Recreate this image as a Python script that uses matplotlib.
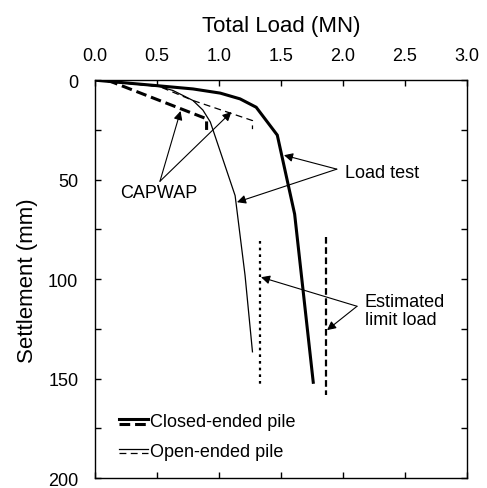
import matplotlib
matplotlib.use("Agg")
import matplotlib.pyplot as plt
from matplotlib.lines import Line2D
from matplotlib.legend_handler import HandlerBase

plt.rcParams['font.family'] = ['Liberation Sans', 'DejaVu Sans']

# load (MN) vs settlement (mm)
closed_test_load = [0.0, 0.49, 0.79, 1.01, 1.17, 1.30, 1.47, 1.61, 1.76]
closed_test_settle = [0.0, 2.7, 4.4, 6.5, 9.4, 13.6, 27.6, 67.3, 151.8]

open_test_load = [0.0, 0.52, 0.63, 0.79, 0.87, 0.93, 1.13, 1.21, 1.27]
open_test_settle = [0.0, 3.2, 5.2, 10.2, 15.0, 21.0, 58.0, 98.0, 136.5]

closed_capwap_load = [0.10, 0.90, 0.90]
closed_capwap_settle = [0.0, 19.4, 25.0]

open_capwap_load = [0.0, 0.52, 0.79, 1.27, 1.27]
open_capwap_settle = [0.0, 3.2, 10.2, 20.3, 24.6]

# estimated limit loads, drawn as vertical marks
open_limit_load = 1.33
open_limit_range = [80.7, 152.8]
closed_limit_load = 1.86
closed_limit_range = [79.0, 158.0]


class PairHandler(HandlerBase):
    # draws solid over dashed in one legend entry
    def create_artists(self, legend, orig_handle, xdescent, ydescent,
                       width, height, fontsize, trans):
        solid, dashed = orig_handle
        x0 = -xdescent
        y0 = -ydescent
        out = []
        for ln, frac in [(solid, 0.55), (dashed, 0.22)]:
            a = Line2D([x0, x0 + width], [y0 + frac * height] * 2)
            a.update_from(ln)
            a.set_transform(trans)
            out.append(a)
        return out


fig = plt.figure(figsize=(4.87, 4.89), dpi=100)
ax = fig.add_axes([0.195, 0.020, 0.764, 0.814])

l1, = ax.plot(closed_test_load, closed_test_settle, color='k', lw=2.2,
              solid_joinstyle='miter')
l2, = ax.plot(open_test_load, open_test_settle, color='k', lw=0.9)
l3, = ax.plot(closed_capwap_load, closed_capwap_settle, color='k', lw=2.2,
              dashes=(3.5, 1.6))
l4, = ax.plot(open_capwap_load, open_capwap_settle, color='k', lw=0.9,
              dashes=(5.5, 3.5))

ax.plot([open_limit_load] * 2, open_limit_range, color='k', lw=1.6,
        dashes=(1.2, 1.8))
ax.plot([closed_limit_load] * 2, closed_limit_range, color='k', lw=1.6,
        dashes=(3.0, 1.6))

arrow = dict(arrowstyle='-|>', color='k', lw=0.8, mutation_scale=13,
             shrinkA=0, shrinkB=0)

ax.text(2.02, 46.2, 'Load test', fontsize=13, va='center', ha='left')
ax.annotate('', xy=(1.524, 37.7), xytext=(1.95, 44.7), arrowprops=arrow)
ax.annotate('', xy=(1.145, 61.3), xytext=(1.95, 44.7), arrowprops=arrow)

ax.text(0.516, 56.5, 'CAPWAP', fontsize=13, va='center', ha='center')
ax.annotate('', xy=(0.69, 15.5), xytext=(0.524, 50.8), arrowprops=arrow)
ax.annotate('', xy=(1.10, 16.0), xytext=(0.524, 50.8), arrowprops=arrow)

ax.text(2.177, 115.6, 'Estimated\nlimit load', fontsize=13, va='center',
        ha='left', linespacing=1.05)
ax.annotate('', xy=(1.339, 99.0), xytext=(2.113, 113.6), arrowprops=arrow)
ax.annotate('', xy=(1.871, 125.6), xytext=(2.113, 113.6), arrowprops=arrow)

ax.legend([(l1, l3), (l2, l4)], ['Closed-ended pile', 'Open-ended pile'],
          handler_map={tuple: PairHandler()}, loc='lower left',
          bbox_to_anchor=(0.02, 0.005), frameon=False, fontsize=13,
          handlelength=1.65, handletextpad=0.1, labelspacing=0.7)

ax.set_xlim(0, 3.0)
ax.set_ylim(200, 0)
ax.set_xticks([0.0, 0.5, 1.0, 1.5, 2.0, 2.5, 3.0])
ax.set_xticklabels(['0.0', '0.5', '1.0', '1.5', '2.0', '2.5', '3.0'])
ax.set_yticks([0, 50, 100, 150, 200])
ax.set_yticks([25, 75, 125, 175], minor=True)

ax.xaxis.set_label_position('top')
ax.set_xlabel('Total Load (MN)', fontsize=16, labelpad=11)
ax.set_ylabel('Settlement (mm)', fontsize=16, labelpad=7)

ax.tick_params(which='both', direction='in', top=True, right=True,
               labeltop=True, labelbottom=False, length=4, width=1.0,
               labelsize=13)
ax.tick_params(axis='x', pad=12)
ax.tick_params(axis='y', pad=12)
for s in ax.spines.values():
    s.set_linewidth(1.0)

fig.savefig('out.png', dpi=100)
